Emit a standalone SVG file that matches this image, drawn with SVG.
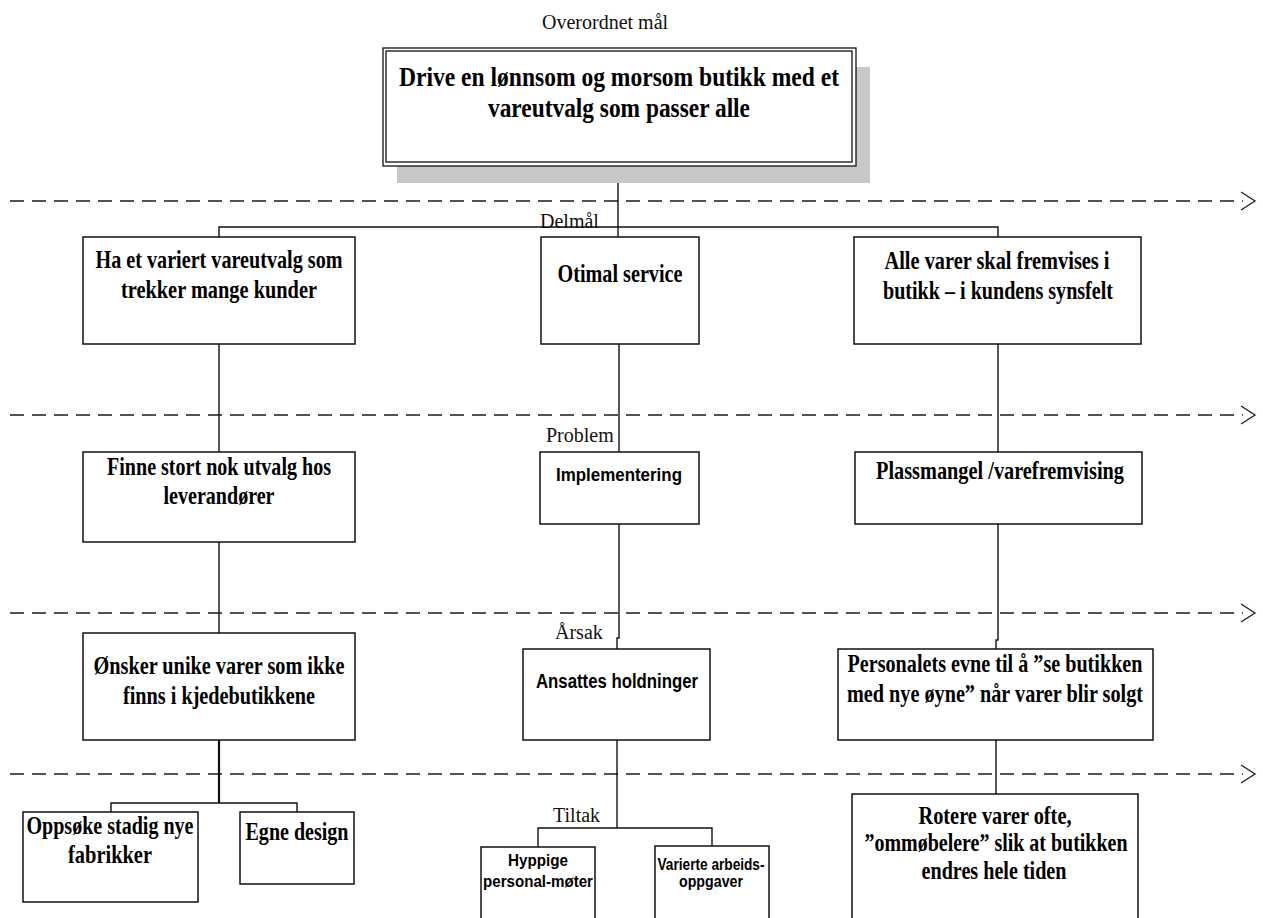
<svg xmlns="http://www.w3.org/2000/svg" width="1263" height="918" viewBox="0 0 1263 918">
  <style>
    .box { fill: #ffffff; stroke: #111111; stroke-width: 1.5; }
    .wire { fill: none; stroke: #111111; stroke-width: 1.4; }
    .thick { stroke-width: 2.2; }
    .level { fill: none; stroke: #1a1a1a; stroke-width: 1.3; stroke-dasharray: 14 8; }
    .chev { fill: none; stroke: #1a1a1a; stroke-width: 1.3; }
    .lbl { font-family: "Liberation Serif", "Times New Roman", serif; font-size: 20px; fill: #111; }
    .tb { font-family: "Liberation Serif", "Times New Roman", serif; font-weight: bold; font-size: 25px; fill: #000; text-anchor: middle; }
    .tt { font-size: 27px; }
    .sb { font-family: "Liberation Sans", Arial, sans-serif; font-weight: bold; fill: #000; text-anchor: middle; }
  </style>

  <rect width="1263" height="918" fill="#ffffff"/>

  <!-- level separators -->
  <g id="levels">
    <line class="level" x1="10" y1="201" x2="1243" y2="201"/>
    <polyline class="chev" points="1241,192 1255,201 1241,210"/>
    <line class="level" x1="10" y1="415" x2="1243" y2="415"/>
    <polyline class="chev" points="1241,406 1255,415 1241,424"/>
    <line class="level" x1="10" y1="613" x2="1243" y2="613"/>
    <polyline class="chev" points="1241,604 1255,613 1241,622"/>
    <line class="level" x1="10" y1="774" x2="1243" y2="774"/>
    <polyline class="chev" points="1241,765 1255,774 1241,783"/>
  </g>

  <!-- level labels -->
  <g id="labels">
    <text class="lbl" x="542" y="29">Overordnet mål</text>
    <text class="lbl" x="540" y="228">Delmål</text>
    <text class="lbl" x="546" y="442">Problem</text>
    <text class="lbl" x="555" y="639">Årsak</text>
    <text class="lbl" x="553" y="822">Tiltak</text>
  </g>

  <!-- connectors -->
  <g id="connectors">
    <path class="wire" d="M618,166 V237"/>
    <path class="wire" d="M219,237 V227 H998 V237"/>
    <path class="wire" d="M219,344 V452"/>
    <path class="wire" d="M219,542 V633"/>
    <path class="wire thick" d="M219,740 V803"/>
    <path class="wire" d="M111,812 V803 H297 V812"/>
    <path class="wire" d="M619,344 V452"/>
    <path class="wire" d="M619,524 V638 H617 V649"/>
    <path class="wire" d="M617,740 V828"/>
    <path class="wire" d="M538,847 V828 H712 V846"/>
    <path class="wire" d="M998,344 V452"/>
    <path class="wire" d="M998,524 V640 H996 V649"/>
    <path class="wire" d="M996,740 V794"/>
  </g>

  <!-- overall goal -->
  <g id="goal">
    <rect x="397" y="67" width="473" height="116" fill="#c8c8c8"/>
    <rect x="383" y="48" width="473" height="118" fill="#ffffff" stroke="#111111" stroke-width="1.3"/>
    <rect x="386" y="51" width="466" height="111" fill="none" stroke="#111111" stroke-width="1.3"/>
    <text class="tb tt" x="619" y="86" textLength="440" lengthAdjust="spacingAndGlyphs">Drive en lønnsom og morsom butikk med et</text>
    <text class="tb tt" x="619" y="117" textLength="262" lengthAdjust="spacingAndGlyphs">vareutvalg som passer alle</text>
  </g>

  <!-- sub-goals -->
  <g id="subgoal-variert">
    <rect class="box" x="83" y="237" width="272" height="107"/>
    <text class="tb" x="219" y="268" textLength="247" lengthAdjust="spacingAndGlyphs">Ha et variert vareutvalg som</text>
    <text class="tb" x="219" y="298" textLength="196" lengthAdjust="spacingAndGlyphs">trekker mange kunder</text>
  </g>
  <g id="subgoal-service">
    <rect class="box" x="541" y="237" width="158" height="107"/>
    <text class="tb" x="620" y="282" textLength="125" lengthAdjust="spacingAndGlyphs">Otimal service</text>
  </g>
  <g id="subgoal-fremvisning">
    <rect class="box" x="854" y="237" width="287" height="107"/>
    <text class="tb" x="997" y="269" textLength="225" lengthAdjust="spacingAndGlyphs">Alle varer skal fremvises i</text>
    <text class="tb" x="998" y="299" textLength="230" lengthAdjust="spacingAndGlyphs">butikk – i kundens synsfelt</text>
  </g>

  <!-- problems -->
  <g id="problem-utvalg">
    <rect class="box" x="83" y="452" width="272" height="90"/>
    <text class="tb" x="219" y="475" textLength="224" lengthAdjust="spacingAndGlyphs">Finne stort nok utvalg hos</text>
    <text class="tb" x="219" y="504" textLength="111" lengthAdjust="spacingAndGlyphs">leverandører</text>
  </g>
  <g id="problem-implementering">
    <rect class="box" x="540" y="452" width="159" height="72"/>
    <text class="sb" x="619" y="481" font-size="19" textLength="126" lengthAdjust="spacingAndGlyphs">Implementering</text>
  </g>
  <g id="problem-plass">
    <rect class="box" x="855" y="452" width="287" height="72"/>
    <text class="tb" x="1000" y="479" textLength="248" lengthAdjust="spacingAndGlyphs">Plassmangel /varefremvising</text>
  </g>

  <!-- causes -->
  <g id="cause-unike">
    <rect class="box" x="83" y="633" width="272" height="107"/>
    <text class="tb" x="219" y="674" textLength="251" lengthAdjust="spacingAndGlyphs">Ønsker unike varer som ikke</text>
    <text class="tb" x="219" y="704" textLength="192" lengthAdjust="spacingAndGlyphs">finns i kjedebutikkene</text>
  </g>
  <g id="cause-holdninger">
    <rect class="box" x="523" y="649" width="187" height="91"/>
    <text class="sb" x="617" y="688" font-size="20" textLength="162" lengthAdjust="spacingAndGlyphs">Ansattes holdninger</text>
  </g>
  <g id="cause-personalet">
    <rect class="box" x="838" y="649" width="315" height="91"/>
    <text class="tb" x="995" y="672" textLength="295" lengthAdjust="spacingAndGlyphs">Personalets evne til å ”se butikken</text>
    <text class="tb" x="995" y="702" textLength="296" lengthAdjust="spacingAndGlyphs">med nye øyne” når varer blir solgt</text>
  </g>

  <!-- measures -->
  <g id="measure-fabrikker">
    <rect class="box" x="23" y="812" width="175" height="90"/>
    <text class="tb" x="110" y="834" textLength="167" lengthAdjust="spacingAndGlyphs">Oppsøke stadig nye</text>
    <text class="tb" x="110" y="863" textLength="84" lengthAdjust="spacingAndGlyphs">fabrikker</text>
  </g>
  <g id="measure-design">
    <rect class="box" x="240" y="812" width="114" height="72"/>
    <text class="tb" x="297" y="840" textLength="103" lengthAdjust="spacingAndGlyphs">Egne design</text>
  </g>
  <g id="measure-moter">
    <rect class="box" x="481" y="847" width="114" height="90"/>
    <text class="sb" x="538" y="866" font-size="17" textLength="60" lengthAdjust="spacingAndGlyphs">Hyppige</text>
    <text class="sb" x="538" y="887" font-size="17" textLength="110" lengthAdjust="spacingAndGlyphs">personal-møter</text>
  </g>
  <g id="measure-oppgaver">
    <rect class="box" x="655" y="846" width="114" height="90"/>
    <text class="sb" x="711" y="870" font-size="16" textLength="107" lengthAdjust="spacingAndGlyphs">Varierte arbeids-</text>
    <text class="sb" x="711" y="887" font-size="16" textLength="64" lengthAdjust="spacingAndGlyphs">oppgaver</text>
  </g>
  <g id="measure-rotere">
    <rect class="box" x="852" y="794" width="286" height="140"/>
    <text class="tb" x="995" y="824" textLength="153" lengthAdjust="spacingAndGlyphs">Rotere varer ofte,</text>
    <text class="tb" x="996" y="851" textLength="263" lengthAdjust="spacingAndGlyphs">”ommøbelere” slik at butikken</text>
    <text class="tb" x="994" y="879" textLength="145" lengthAdjust="spacingAndGlyphs">endres hele tiden</text>
  </g>
</svg>
